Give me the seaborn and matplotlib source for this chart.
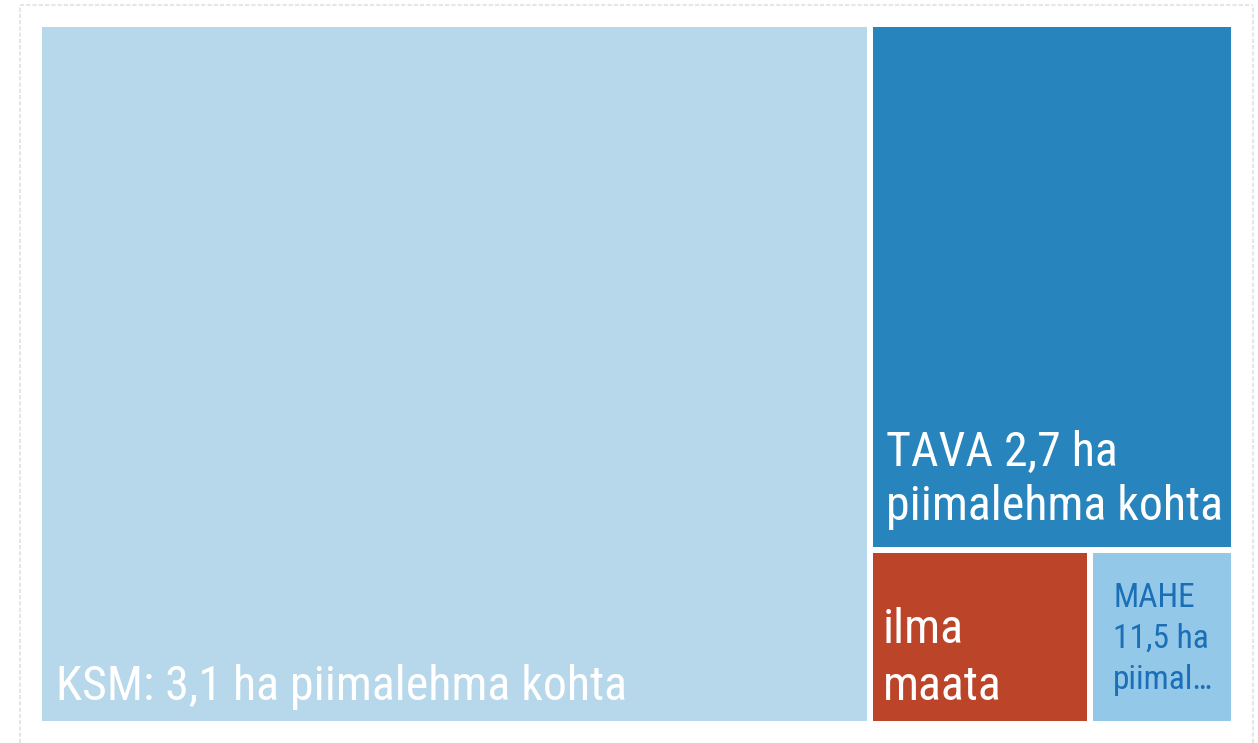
import numpy as np
import pandas as pd
import matplotlib
matplotlib.use("Agg")
import matplotlib.pyplot as plt
import seaborn as sns
from matplotlib import font_manager
from matplotlib.patches import Rectangle
from matplotlib.lines import Line2D

# data (share of cells area)
groups = ["KSM", "TAVA", "ilma maata", "MAHE"]
shares = [69.5, 22.9, 4.6, 3.0]
labels = [
    ["KSM: 3,1 ha piimalehma kohta"],
    ["TAVA 2,7 ha", "piimalehma kohta"],
    ["ilma", "maata"],
    ["MAHE", "11,5 ha", "piimal…"],
]
colors = ["#b7d7ea", "#2884bc", "#bb4429", "#93c8e8"]
text_colors = ["white", "white", "white", "#1b6fb6"]

# label styling: (font size, left pad, bottom pad, line spacing) in px
label_style = [(34.5, 14, 21, 55), (34.5, 13, 27, 54), (34.5, 10, 21, 57), (24, 20, 32, 41)]


def worst(row, w):
    s = sum(row)
    return max(max(w * w * r / (s * s), s * s / (w * w * r)) for r in row)


def squarify(values, x, y, dx, dy):
    vals = list(values)
    rects = []
    while vals:
        w = min(dx, dy)
        row = [vals[0]]
        i = 1
        while i < len(vals) and worst(row + [vals[i]], w) <= worst(row, w):
            row.append(vals[i])
            i += 1
        s = sum(row)
        if dx >= dy:
            rw = s / dy
            yy = y
            for r in row:
                rects.append((x, yy, rw, r / rw))
                yy += r / rw
            x += rw
            dx -= rw
        else:
            rh = s / dx
            xx = x
            for r in row:
                rects.append((xx, y, r / rh, rh))
                xx += r / rh
            y += rh
            dy -= rh
        vals = vals[i:]
    return rects


sns.set_theme(style="white")
names = {f.name for f in font_manager.fontManager.ttflist}
font, scale = "Roboto", 0.87
for fam in ["Roboto Condensed", "Liberation Sans Narrow"]:
    if fam in names:
        font, scale = fam, 1.0
        break
plt.rcParams["font.family"] = [font, "DejaVu Sans"]

W, H = 1258, 743
fig = plt.figure(figsize=(W / 100, H / 100), dpi=100)
fig.patch.set_facecolor("white")

X0, Y0, AW, AH = 39, 24, 1195, 700
ax = fig.add_axes([X0 / W, 1 - (Y0 + AH) / H, AW / W, AH / H])
ax.set_xlim(0, AW)
ax.set_ylim(AH, 0)
ax.axis("off")

df = pd.DataFrame({"group": groups, "share": shares})
total = df["share"].sum()
areas = df["share"] / total * AW * AH
rects = squarify(areas, 0, 0, AW, AH)

gap = 6
for i, (x, y, w, h) in enumerate(rects):
    rx, ry, rw, rh = x + gap / 2, y + gap / 2, w - gap, h - gap
    ax.add_patch(Rectangle((rx, ry), rw, rh, facecolor=colors[i], edgecolor="none"))
    size, padx, padb, lsp = label_style[i]
    lines = labels[i]
    n = len(lines)
    for j, line in enumerate(lines):
        yb = ry + rh - padb - (n - 1 - j) * lsp
        ax.text(rx + padx, yb, line, color=text_colors[i], fontsize=size * scale,
                ha="left", va="baseline")

# faint outer frame
fc = "#e6e6e6"
fig.add_artist(Line2D([20 / W, 1253 / W], [1 - 5 / H, 1 - 5 / H], color=fc, lw=1.5, ls=(0, (2, 1))))
fig.add_artist(Line2D([20 / W, 20 / W], [0, 1 - 5 / H], color=fc, lw=1.5, ls=(0, (2, 1))))
fig.add_artist(Line2D([1253 / W, 1253 / W], [0, 1 - 5 / H], color=fc, lw=1.5, ls=(0, (2, 1))))

fig.savefig("out.png", dpi=100, facecolor="white")
